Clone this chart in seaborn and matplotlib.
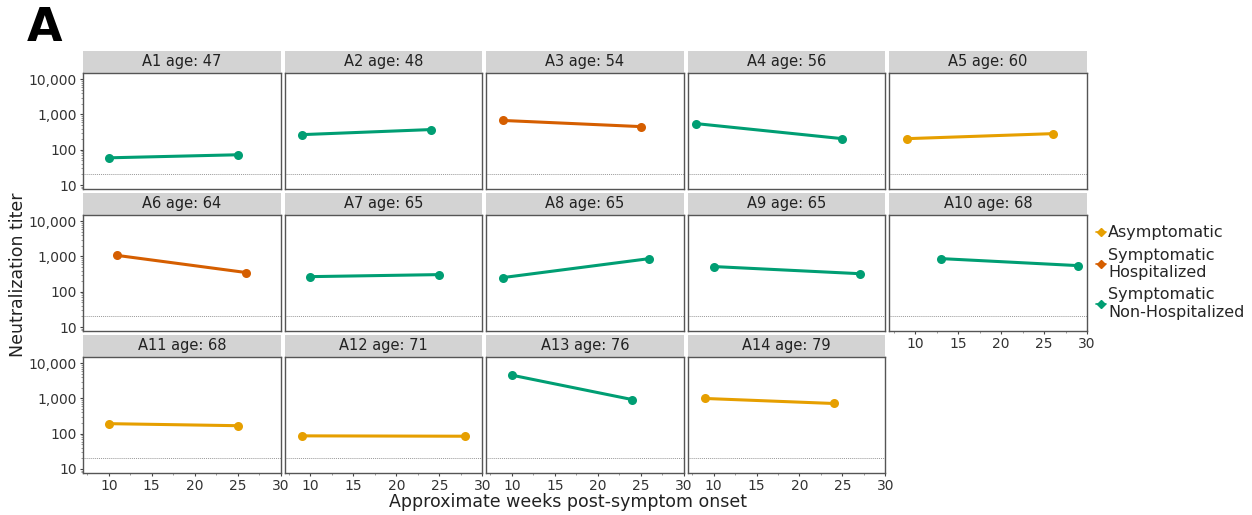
import numpy as np
import pandas as pd
import seaborn as sb
import matplotlib.pyplot as plt
from matplotlib.lines import Line2D
from matplotlib.patches import Rectangle
from matplotlib.ticker import FuncFormatter, LogLocator, MultipleLocator

subjects = ["A1", "A2", "A3", "A4", "A5", "A6", "A7", "A8", "A9", "A10",
            "A11", "A12", "A13", "A14"]
ages = [47, 48, 54, 56, 60, 64, 65, 65, 65, 68, 68, 71, 76, 79]
groups = ["NH", "NH", "H", "NH", "A", "H", "NH", "NH", "NH", "NH",
          "A", "A", "NH", "A"]
week_1 = [10, 9, 9, 8, 9, 11, 10, 9, 10, 13, 10, 9, 10, 9]
week_2 = [25, 24, 25, 25, 26, 26, 25, 26, 27, 29, 25, 28, 24, 24]
titer_1 = [59, 268, 676, 550, 206, 1070, 268, 253, 518, 870, 193, 87, 4570, 1000]
titer_2 = [72, 373, 453, 206, 286, 350, 306, 870, 325, 550, 169, 85, 930, 720]

group_names = {"A": "Asymptomatic",
               "H": "Symptomatic\nHospitalized",
               "NH": "Symptomatic\nNon-Hospitalized"}
palette = {"Asymptomatic": "#E69F00",
           "Symptomatic\nHospitalized": "#D55E00",
           "Symptomatic\nNon-Hospitalized": "#009E73"}
limit_of_detection = 20

rows = []
for s, a, gr, w1, w2, t1, t2 in zip(subjects, ages, groups, week_1, week_2, titer_1, titer_2):
    panel = f"{s} age: {a}"
    rows.append((panel, w1, t1, group_names[gr]))
    rows.append((panel, w2, t2, group_names[gr]))
df = pd.DataFrame(rows, columns=["panel", "week", "titer", "group"])

sb.set_theme(style="white")
plt.rcParams["font.family"] = ["DejaVu Sans"]

g = sb.relplot(data=df, x="week", y="titer", col="panel", col_wrap=5,
               hue="group", palette=palette, kind="line", marker="o",
               markersize=6.5, markeredgewidth=0, linewidth=2.2, legend=False,
               height=1.2, aspect=1.7, facet_kws=dict(sharex=True, sharey=True))
fig = g.figure
fig.set_size_inches(12.52, 5.15)
fig.subplots_adjust(left=83 / 1252, right=1087 / 1252, top=1 - 73 / 515,
                    bottom=1 - 473 / 515, wspace=0.02, hspace=0.224)

g.set_titles("")
g.set_axis_labels("", "")
axes = g.axes.flatten()
for i, ax in enumerate(axes):
    first_col = i % 5 == 0
    bottom = i >= 9
    ax.set_yscale("log")
    ax.set_ylim(7.7, 15000)
    ax.set_xlim(7, 30)
    ax.axhline(limit_of_detection, color="#999999", lw=0.7, ls=(0, (1, 1)), zorder=0)
    ax.yaxis.set_major_locator(LogLocator(base=10, numticks=10))
    ax.yaxis.set_minor_locator(LogLocator(base=10, subs=np.arange(2, 10), numticks=10))
    ax.yaxis.set_major_formatter(FuncFormatter(lambda v, p: f"{int(v):,}"))
    ax.xaxis.set_major_locator(MultipleLocator(5))
    ax.xaxis.set_minor_locator(MultipleLocator(2.5))
    ax.tick_params(axis="both", which="major", length=2.5, width=0.8, pad=2,
                   color="#444444", labelsize=10, labelcolor="#333333")
    ax.tick_params(axis="both", which="minor", length=1.5, width=0.6,
                   color="#888888")
    ax.tick_params(axis="y", which="both", left=first_col, labelleft=first_col)
    ax.tick_params(axis="x", which="both", bottom=bottom, labelbottom=bottom)
    for sp in ax.spines.values():
        sp.set_visible(True)
        sp.set_color("#555555")
        sp.set_linewidth(1.0)
    ax.add_patch(Rectangle((0, 1.0), 1, 22 / 116, transform=ax.transAxes,
                           facecolor="#D3D3D3", edgecolor="none", clip_on=False))
    ax.text(0.5, 1 + 11 / 116, df["panel"].unique()[i], transform=ax.transAxes,
            ha="center", va="center", fontsize=10.5, color="#222222")

handles = [Line2D([], [], color=c, marker="D", markersize=4, lw=1.2)
           for c in palette.values()]
fig.legend(handles, list(palette.keys()), loc="upper left",
           bbox_to_anchor=(1090 / 1252, 1 - 219 / 515), frameon=False,
           fontsize=11.5, handlelength=0.6, handletextpad=0.15,
           labelspacing=0.45, borderaxespad=0)

fig.text(568 / 1252, 1 - 502 / 515, "Approximate weeks post-symptom onset",
         ha="center", va="center", fontsize=12.5, color="#222222")
fig.text(18 / 1252, 1 - 275 / 515, "Neutralization titer", rotation=90,
         ha="center", va="center", fontsize=12.5, color="#222222")
fig.text(27 / 1252, 1 - 6 / 515, "A", ha="left", va="top", fontsize=33,
         fontweight="bold", color="black")

fig.savefig("out.png", dpi=100)
